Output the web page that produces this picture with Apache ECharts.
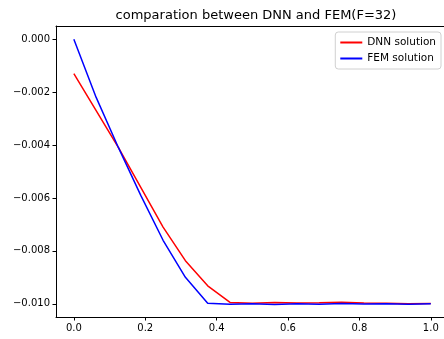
<!DOCTYPE html>
<html>
<head>
<meta charset="utf-8">
<script src="https://cdn.jsdelivr.net/npm/echarts@6/dist/echarts.min.js"></script>
<style>
  html, body { margin: 0; padding: 0; background: #fff; }
  #chart { width: 444px; height: 339px; }
</style>
</head>
<body>
<div id="chart"></div>
<script>
// x positions (mesh nodes, step 1/16)
const xs = [0, 0.0625, 0.125, 0.1875, 0.25, 0.3125, 0.375, 0.4375, 0.5,
  0.5625, 0.625, 0.6875, 0.75, 0.8125, 0.875, 0.9375, 1.0]

const dnnValues = [-0.0013, -0.0027, -0.0041, -0.0056, -0.0071, -0.00837, -0.00932, -0.00995, -0.00998,
  -0.00995, -0.00997, -0.00996, -0.00994, -0.00997, -0.00998, -0.01, -0.00999]

const femValues = [0, -0.0022, -0.0041, -0.0059, -0.0076, -0.0090, -0.00998, -0.01002, -0.01,
  -0.01003, -0.01, -0.01002, -0.00999, -0.01001, -0.01, -0.01002, -0.01]

const xTicks = [0, 0.2, 0.4, 0.6, 0.8, 1.0]
const yTicks = [0, -0.002, -0.004, -0.006, -0.008, -0.010]

const font = 'DejaVu Sans'

function fmtY(v) {
  const s = Math.abs(v).toFixed(3)
  return v < -1e-9 ? '\u2212' + s : s
}

const chart = echarts.init(document.getElementById('chart'))
chart.setOption({
  animation: false,
  backgroundColor: '#fff',
  title: {
    text: 'comparation between DNN and FEM(F=32)',
    left: 251,
    textAlign: 'center',
    top: 4,
    textStyle: { fontFamily: font, fontSize: 13, fontWeight: 'normal', color: '#000' }
  },
  legend: {
    right: 3,
    top: 32,
    orient: 'vertical',
    icon: 'rect',
    itemWidth: 22,
    itemHeight: 2,
    itemGap: 5,
    padding: [5, 5, 5, 5],
    borderColor: '#d0d0d0',
    borderWidth: 1,
    borderRadius: 3,
    backgroundColor: 'rgba(255,255,255,0.8)',
    textStyle: { fontFamily: font, fontSize: 10.5, color: '#000' },
    data: ['DNN solution', 'FEM solution']
  },
  grid: {
    left: 56,
    top: 26,
    right: 0,
    height: 291,
    show: false
  },
  xAxis: [
    {
      type: 'value',
      min: -0.05,
      max: 1.037,
      axisLine: { show: true, onZero: false, lineStyle: { color: '#000', width: 1 } },
      axisTick: { show: true, length: 3.5, customValues: xTicks, lineStyle: { color: '#000' } },
      axisLabel: {
        customValues: xTicks,
        margin: 6,
        fontFamily: font,
        fontSize: 10,
        color: '#000',
        formatter: (v) => v.toFixed(1)
      },
      splitLine: { show: false }
    },
    {
      // top spine only
      type: 'value',
      position: 'top',
      min: -0.05,
      max: 1.037,
      axisLine: { show: true, onZero: false, lineStyle: { color: '#000', width: 1 } },
      axisTick: { show: false },
      axisLabel: { show: false },
      splitLine: { show: false }
    }
  ],
  yAxis: {
    type: 'value',
    min: -0.0105,
    max: 0.0005,
    axisLine: { show: true, onZero: false, lineStyle: { color: '#000', width: 1 } },
    axisTick: { show: true, length: 3.5, customValues: yTicks, lineStyle: { color: '#000' } },
    axisLabel: {
      customValues: yTicks,
      margin: 6,
      fontFamily: font,
      fontSize: 10,
      color: '#000',
      formatter: fmtY
    },
    splitLine: { show: false }
  },
  series: [
    {
      name: 'DNN solution',
      type: 'line',
      data: xs.map((x, i) => [x, dnnValues[i]]),
      showSymbol: false,
      symbol: 'none',
      color: '#ff0000',
      lineStyle: { color: '#ff0000', width: 1.5 }
    },
    {
      name: 'FEM solution',
      type: 'line',
      data: xs.map((x, i) => [x, femValues[i]]),
      showSymbol: false,
      symbol: 'none',
      color: '#0000ff',
      lineStyle: { color: '#0000ff', width: 1.5 }
    }
  ]
})
</script>
</body>
</html>
